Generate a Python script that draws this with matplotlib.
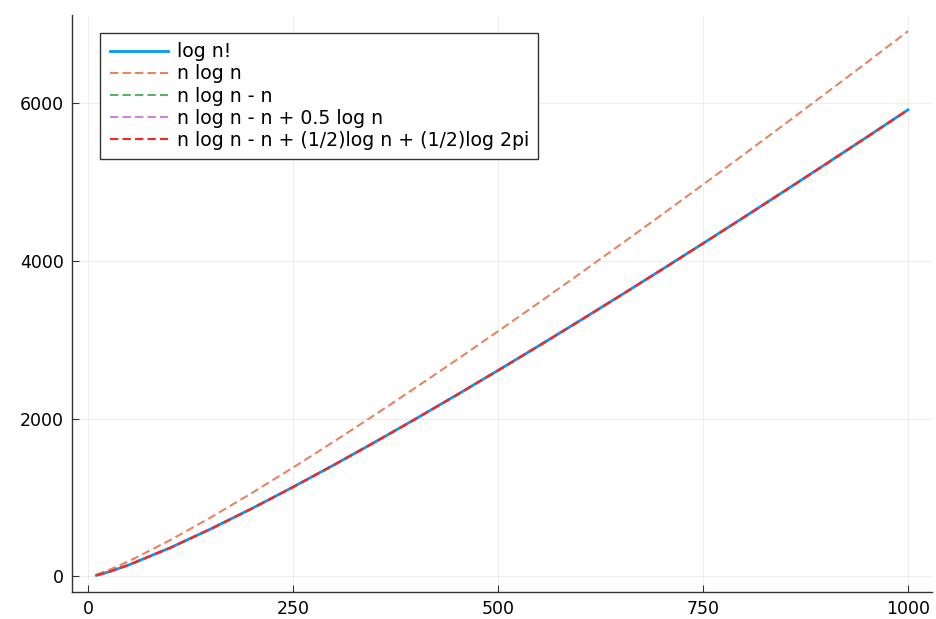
import matplotlib
matplotlib.use('Agg')
import matplotlib.pyplot as plt

# values
n = [10, 25, 50, 100, 150, 200, 250, 300, 350, 400, 450, 500,
     550, 600, 650, 700, 750, 800, 850, 900, 950, 1000]
log_fact = [15.1, 58.0, 148.5, 363.7, 605.0, 863.2, 1134.1, 1414.9, 1704.1, 2000.5, 2303.2, 2611.3,
            2924.5, 3242.3, 3564.2, 3889.9, 4219.3, 4551.9, 4887.7, 5226.5, 5568.0, 5912.1]
nlogn = [23.0, 80.5, 195.6, 460.5, 751.6, 1059.7, 1380.4, 1711.1, 2050.3, 2396.6, 2749.2, 3107.3,
         3470.4, 3838.2, 4210.1, 4585.8, 4965.1, 5347.7, 5733.4, 6122.2, 6513.6, 6907.8]
nlogn_n = [13.0, 55.5, 145.6, 360.5, 601.6, 859.7, 1130.4, 1411.1, 1700.3, 1996.6, 2299.2, 2607.3,
           2920.4, 3238.2, 3560.1, 3885.8, 4215.1, 4547.7, 4883.4, 5222.2, 5563.6, 5907.8]
nlogn_n_half = [14.2, 57.1, 147.6, 362.8, 604.1, 862.4, 1133.2, 1414.0, 1703.2, 1999.6, 2302.3, 2610.4,
                2923.6, 3241.4, 3563.3, 3889.0, 4218.4, 4551.0, 4886.8, 5225.6, 5567.0, 5911.3]
stirling = [15.1, 58.0, 148.5, 363.7, 605.0, 863.2, 1134.1, 1414.9, 1704.1, 2000.5, 2303.2, 2611.3,
            2924.5, 3242.3, 3564.2, 3889.9, 4219.3, 4551.9, 4887.7, 5226.5, 5568.0, 5912.1]

labels = ['log n!', 'n log n', 'n log n - n', 'n log n - n + 0.5 log n',
          'n log n - n + (1/2)log n + (1/2)log 2pi']
colors = ['#009AFA', '#E36F47', '#3EA44E', '#C371D2', '#FF2020']

fig = plt.figure(figsize=(9.37, 6.19), dpi=100)
ax = fig.add_axes([0.077, 0.044, 0.918, 0.932])

series = [log_fact, nlogn, nlogn_n, nlogn_n_half, stirling]
for i, ys in enumerate(series):
    if i == 0:
        ax.plot(n, ys, color=colors[i], lw=2, label=labels[i])
    else:
        ax.plot(n, ys, color=colors[i], lw=1.5, ls=(0, (4, 2)), alpha=0.85 if i < 4 else 1,
                label=labels[i])

ax.set_xlim(-19.7, 1029.7)
ax.set_ylim(-194, 7115)
ax.set_xticks([0, 250, 500, 750, 1000])
ax.set_yticks([0, 2000, 4000, 6000])
ax.grid(True, color='#000000', alpha=0.08, lw=0.6)
for s in ['top', 'right']:
    ax.spines[s].set_visible(False)
for s in ['left', 'bottom']:
    ax.spines[s].set_linewidth(1.0)
    ax.spines[s].set_color('#333333')
ax.tick_params(direction='in', length=5, labelsize=12.5, colors='#333333', labelcolor='black',
               pad=6)

leg = ax.legend(loc='upper left', bbox_to_anchor=(0.0326, 0.969), fontsize=13.6, fancybox=False,
                framealpha=1, edgecolor='#333333', handlelength=3.1, borderpad=0.5,
                labelspacing=0.17, handletextpad=0.45, borderaxespad=0)
leg.get_frame().set_linewidth(1.0)

fig.savefig('out.png', dpi=100)
